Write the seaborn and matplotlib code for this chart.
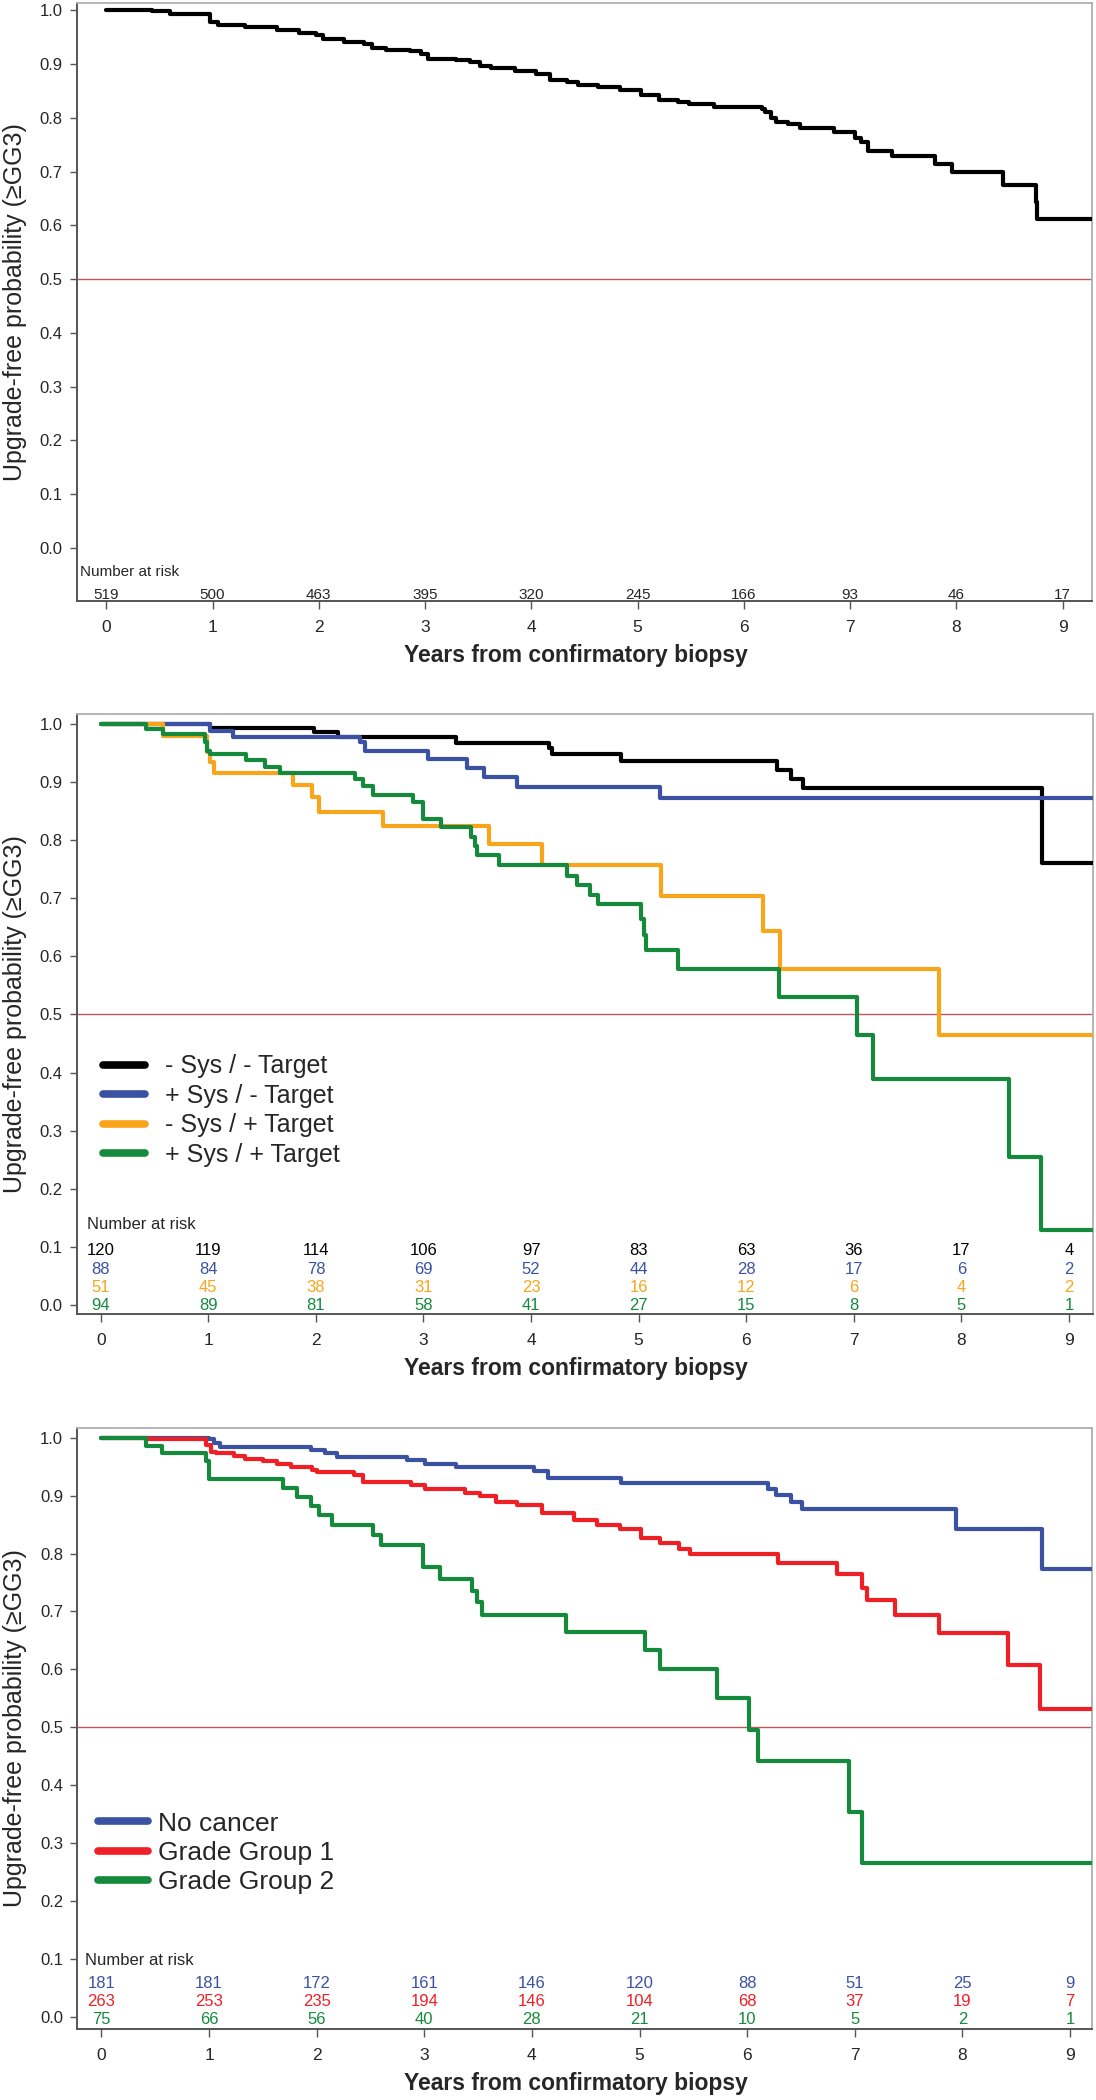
import matplotlib
matplotlib.use("Agg")
import matplotlib.pyplot as plt
import seaborn as sns
import pandas as pd

# ---------------- DATA ----------------
years = [0, 1, 2, 3, 4, 5, 6, 7, 8, 9]

# Panel A: overall cohort
all_t = [0, 0.43, 0.60, 0.98, 1.05, 1.31, 1.61, 1.81, 1.97, 2.04, 2.24, 2.43, 2.50, 2.63,
         2.86, 2.96, 3.03, 3.29, 3.42, 3.52, 3.62, 3.85, 4.04, 4.18, 4.34, 4.44, 4.63, 4.83,
         5.03, 5.20, 5.38, 5.48, 5.72, 6.17, 6.20, 6.26, 6.30, 6.42, 6.53, 6.85, 7.05, 7.10,
         7.17, 7.39, 7.80, 7.96, 8.44, 8.75, 8.76, 9.28]
all_s = [1.0, 0.998, 0.994, 0.978, 0.972, 0.969, 0.964, 0.958, 0.954, 0.946, 0.941, 0.937,
         0.930, 0.926, 0.924, 0.919, 0.910, 0.907, 0.904, 0.896, 0.892, 0.887, 0.881, 0.871,
         0.867, 0.861, 0.858, 0.851, 0.842, 0.834, 0.830, 0.825, 0.820, 0.816, 0.811, 0.800,
         0.792, 0.788, 0.782, 0.774, 0.762, 0.755, 0.738, 0.729, 0.715, 0.699, 0.675, 0.644,
         0.611, 0.611]
all_risk = [519, 500, 463, 395, 320, 245, 166, 93, 46, 17]

# Panel B: systematic / targeted biopsy result
b_labels = ["- Sys / - Target", "+ Sys / - Target", "- Sys / + Target", "+ Sys / + Target"]
b_colors = ["#000000", "#3b52a3", "#f9a51c", "#168a3c"]
nn_t = [0, 1.02, 1.98, 2.21, 3.30, 4.17, 4.19, 4.84, 6.29, 6.42, 6.53, 8.75, 9.25]
nn_s = [1.0, 0.993, 0.986, 0.977, 0.967, 0.958, 0.948, 0.936, 0.921, 0.905, 0.889, 0.760, 0.760]
pn_t = [0, 1.02, 1.23, 2.41, 2.46, 3.04, 3.40, 3.56, 3.87, 5.20, 9.25]
pn_s = [1.0, 0.988, 0.978, 0.968, 0.954, 0.940, 0.924, 0.908, 0.892, 0.872, 0.872]
np_t = [0, 0.58, 0.99, 1.02, 1.05, 1.79, 1.96, 2.03, 2.62, 3.61, 4.10, 5.21, 6.16, 6.31, 7.79, 9.25]
np_s = [1.0, 0.980, 0.951, 0.935, 0.915, 0.894, 0.874, 0.848, 0.824, 0.793, 0.757, 0.704,
        0.643, 0.579, 0.464, 0.464]
pp_t = [0, 0.42, 0.58, 0.97, 0.99, 1.02, 1.35, 1.53, 1.67, 2.36, 2.44, 2.53, 2.90, 3.00,
        3.16, 3.44, 3.48, 3.50, 3.70, 4.33, 4.43, 4.55, 4.62, 5.02, 5.05, 5.07, 5.37, 6.30,
        7.03, 7.18, 8.44, 8.74, 9.25]
pp_s = [1.0, 0.991, 0.982, 0.968, 0.954, 0.948, 0.938, 0.925, 0.916, 0.905, 0.893, 0.878,
        0.865, 0.836, 0.823, 0.806, 0.790, 0.774, 0.757, 0.739, 0.722, 0.706, 0.690, 0.664,
        0.636, 0.611, 0.579, 0.530, 0.464, 0.389, 0.255, 0.129, 0.129]
b_risk = [[120, 119, 114, 106, 97, 83, 63, 36, 17, 4],
          [88, 84, 78, 69, 52, 44, 28, 17, 6, 2],
          [51, 45, 38, 31, 23, 16, 12, 6, 4, 2],
          [94, 89, 81, 58, 41, 27, 15, 8, 5, 1]]

# Panel C: confirmatory biopsy grade
c_labels = ["No cancer", "Grade Group 1", "Grade Group 2"]
c_colors = ["#3b52a3", "#ee2026", "#168a3c"]
nc_t = [0, 0.995, 1.05, 1.10, 1.95, 2.08, 2.19, 2.84, 3.01, 3.29, 4.02, 4.15, 4.83, 6.19,
        6.27, 6.41, 6.51, 7.94, 8.74, 9.2]
nc_s = [1.0, 0.997, 0.990, 0.984, 0.979, 0.974, 0.967, 0.962, 0.955, 0.949, 0.943, 0.930,
        0.921, 0.911, 0.901, 0.889, 0.876, 0.843, 0.773, 0.773]
g1_t = [0, 0.43, 0.92, 0.97, 1.02, 1.06, 1.23, 1.33, 1.50, 1.63, 1.76, 1.96, 2.00, 2.35,
        2.43, 2.88, 3.01, 3.38, 3.52, 3.67, 3.86, 4.09, 4.39, 4.60, 4.82, 5.01, 5.19, 5.37,
        5.47, 6.29, 6.83, 7.07, 7.11, 7.37, 7.78, 8.42, 8.72, 9.2]
g1_s = [1.0, 0.998, 0.997, 0.988, 0.976, 0.973, 0.968, 0.964, 0.960, 0.954, 0.950, 0.945,
        0.941, 0.936, 0.924, 0.918, 0.911, 0.905, 0.899, 0.889, 0.884, 0.870, 0.858, 0.850,
        0.842, 0.827, 0.818, 0.807, 0.799, 0.783, 0.765, 0.740, 0.720, 0.694, 0.663, 0.607,
        0.532, 0.532]
g2_t = [0, 0.41, 0.56, 0.97, 0.995, 1.685, 1.82, 1.95, 2.02, 2.14, 2.52, 2.60, 2.985, 3.15,
        3.44, 3.49, 3.54, 4.32, 5.05, 5.19, 5.72, 6.02, 6.10, 6.95, 7.07, 9.2]
g2_s = [1.0, 0.985, 0.973, 0.959, 0.929, 0.913, 0.897, 0.882, 0.866, 0.849, 0.832, 0.815,
        0.776, 0.756, 0.736, 0.716, 0.693, 0.665, 0.633, 0.600, 0.551, 0.496, 0.441, 0.353,
        0.265, 0.265]
c_risk = [[181, 181, 172, 161, 146, 120, 88, 51, 25, 9],
          [263, 253, 235, 194, 146, 104, 68, 37, 19, 7],
          [75, 66, 56, 40, 28, 21, 10, 5, 2, 1]]

yticks = [0.0, 0.1, 0.2, 0.3, 0.4, 0.5, 0.6, 0.7, 0.8, 0.9, 1.0]
ylabel = "Upgrade-free probability (\u2265GG3)"
xlabel = "Years from confirmatory biopsy"

# ---------------- STYLE ----------------
sns.set_theme(style="ticks")
plt.rcParams["font.family"] = ["Liberation Sans", "DejaVu Sans"]

W, H = 1096, 2100
fig = plt.figure(figsize=(W / 100, H / 100), dpi=100)


def make_ax(l, r, t, b):
    return fig.add_axes([l / W, 1 - b / H, (r - l) / W, (b - t) / H])


def style(ax, xlim, ylim):
    ax.set_xlim(*xlim)
    ax.set_ylim(*ylim)
    ax.set_xticks(years)
    ax.set_yticks(yticks)
    ax.set_xticklabels([str(v) for v in years])
    ax.set_yticklabels([f"{v:.1f}" for v in yticks])
    ax.tick_params(axis="x", length=6, width=1, color="#555555", labelsize=12.5, pad=8)
    ax.tick_params(axis="y", length=5, width=1, color="#555555", labelsize=12, pad=5)
    for side in ["left", "bottom"]:
        ax.spines[side].set_color("#555555")
        ax.spines[side].set_linewidth(1.4)
    for side in ["top", "right"]:
        ax.spines[side].set_visible(True)
        ax.spines[side].set_color("#b0b0b0")
        ax.spines[side].set_linewidth(1.3)
    ax.axhline(0.5, color="#c0555c", lw=1.0, zorder=1)
    ax.set_ylabel(ylabel, fontsize=18)
    ax.set_xlabel(xlabel, fontsize=16.5, fontweight="bold")
    ax.yaxis.set_label_coords(-0.049, 0.5)
    ax.xaxis.set_label_coords(0.4916, -0.072)
    ax.set_facecolor("white")


def long_df(ts, ss, labels):
    rows = []
    for tt, s, lab in zip(ts, ss, labels):
        for a, b in zip(tt, s):
            rows.append({"t": a, "S": b, "group": lab})
    return pd.DataFrame(rows)


# ---------------- PANEL A ----------------
ax1 = make_ax(76.5, 1092, 3, 601)
sns.lineplot(x=all_t, y=all_s, color="black", drawstyle="steps-post", estimator=None,
             linewidth=3.0, ax=ax1, zorder=3)
style(ax1, (-0.28, 9.276), (-0.0985, 1.0136))
ax1.text(-0.245, -0.0446, "Number at risk", fontsize=11, ha="left", va="center")
for x, n in zip(years, all_risk):
    ax1.text(x, -0.0874, str(n), fontsize=11, ha="center", va="center")

# ---------------- PANEL B ----------------
ax2 = make_ax(76.5, 1093, 714, 1314)
dfb = long_df([nn_t, pn_t, np_t, pp_t], [nn_s, pn_s, np_s, pp_s], b_labels)
sns.lineplot(data=dfb, x="t", y="S", hue="group", hue_order=b_labels, palette=b_colors,
             drawstyle="steps-post", estimator=None, linewidth=3.0, ax=ax2, zorder=3)
style(ax2, (-0.225, 9.223), (-0.0155, 1.017))
h, l = ax2.get_legend_handles_labels()
leg = ax2.legend(h, l, loc="center left", bbox_to_anchor=(0.026, 0.339), frameon=False,
                 fontsize=18, handlelength=1.7, handletextpad=0.8, labelspacing=0.22,
                 borderpad=0, borderaxespad=0)
for ln in leg.get_lines():
    ln.set_linewidth(5.5)
ax2.text(-0.127, 0.139, "Number at risk", fontsize=12, ha="left", va="center")
row_y = [0.0936, 0.0616, 0.0298, -0.0017]
for ry, risk, col in zip(row_y, b_risk, b_colors):
    for x, n in zip(years, risk):
        ax2.text(x, ry, str(n), fontsize=12, ha="center", va="center", color=col)

# ---------------- PANEL C ----------------
ax3 = make_ax(77, 1092, 1428, 2029)
dfc = long_df([nc_t, g1_t, g2_t], [nc_s, g1_s, g2_s], c_labels)
sns.lineplot(data=dfc, x="t", y="S", hue="group", hue_order=c_labels, palette=c_colors,
             drawstyle="steps-post", estimator=None, linewidth=3.0, ax=ax3, zorder=3)
style(ax3, (-0.227, 9.204), (-0.021, 1.0167))
h, l = ax3.get_legend_handles_labels()
leg = ax3.legend(h, l, loc="center left", bbox_to_anchor=(0.021, 0.293), frameon=False,
                 fontsize=19, handlelength=1.9, handletextpad=0.35, labelspacing=0.2,
                 borderpad=0, borderaxespad=0)
for ln in leg.get_lines():
    ln.set_linewidth(5.5)
ax3.text(-0.15, 0.098, "Number at risk", fontsize=12, ha="left", va="center")
row_y = [0.058, 0.026, -0.0045]
for ry, risk, col in zip(row_y, c_risk, c_colors):
    for x, n in zip(years, risk):
        ax3.text(x, ry, str(n), fontsize=12, ha="center", va="center", color=col)

fig.savefig("out.png", dpi=100, facecolor="white")
